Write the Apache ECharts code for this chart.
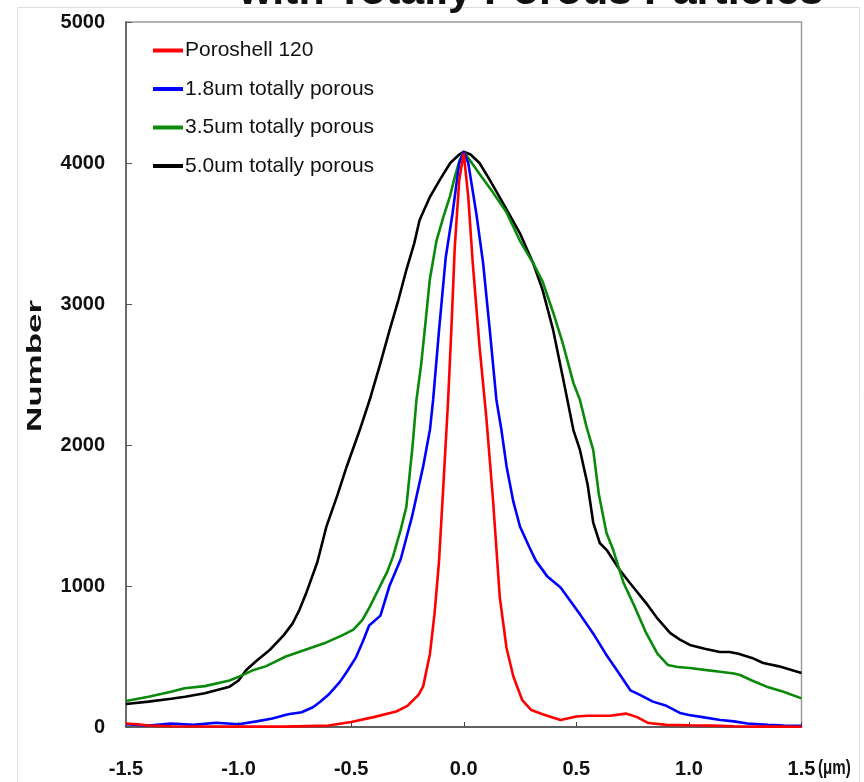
<!DOCTYPE html>
<html>
<head>
<meta charset="utf-8">
<script src="https://cdn.jsdelivr.net/npm/echarts@6/dist/echarts.min.js"></script>
<style>
html,body{margin:0;padding:0;background:#fff;}
#chart{width:864px;height:782px;}
</style>
</head>
<body>
<div id="chart"></div>
<script>
// ---- Data ----
var seriesNames = ['Poroshell 120', '1.8um totally porous', '3.5um totally porous', '5.0um totally porous'];
var xTicks = [-1.5, -1.0, -0.5, 0.0, 0.5, 1.0, 1.5];
var yTicks = [0, 1000, 2000, 3000, 4000, 5000];

var poroshellX = [-1.5, -1.45, -1.4, -1.3, -1.0, -0.8, -0.6, -0.5, -0.4, -0.3, -0.25, -0.2, -0.18, -0.15, -0.13, -0.11, -0.09, -0.07, -0.055, -0.04, -0.02, 0, 0.02, 0.04, 0.07, 0.1, 0.13, 0.16, 0.19, 0.22, 0.26, 0.3, 0.35, 0.43, 0.5, 0.55, 0.65, 0.72, 0.77, 0.82, 0.9, 1.0, 1.1, 1.2, 1.3, 1.4, 1.5];
var poroshellY = [25, 20, 10, 5, 3, 3, 10, 35, 70, 110, 150, 230, 290, 520, 800, 1170, 1730, 2300, 2820, 3400, 3880, 4070, 3760, 3290, 2700, 2200, 1610, 920, 560, 360, 190, 120, 90, 50, 75, 80, 80, 95, 70, 28, 15, 12, 10, 5, 3, 3, 2];

var tp18X = [-1.5, -1.4, -1.3, -1.2, -1.1, -1.0, -0.92, -0.85, -0.78, -0.72, -0.67, -0.64, -0.6, -0.55, -0.52, -0.48, -0.45, -0.42, -0.37, -0.33, -0.28, -0.23, -0.18, -0.15, -0.136, -0.11, -0.08, -0.05, -0.02, 0, 0.02, 0.056, 0.086, 0.116, 0.145, 0.167, 0.19, 0.22, 0.25, 0.29, 0.32, 0.37, 0.43, 0.48, 0.52, 0.58, 0.63, 0.69, 0.74, 0.78, 0.84, 0.9, 0.96, 1.0, 1.06, 1.14, 1.2, 1.26, 1.35, 1.42, 1.5];
var tp18Y = [20, 10, 25, 15, 30, 20, 40, 60, 90, 105, 140, 175, 230, 320, 390, 490, 600, 720, 790, 1000, 1190, 1490, 1850, 2110, 2320, 2810, 3330, 3640, 4000, 4080, 4000, 3640, 3290, 2810, 2320, 2110, 1850, 1600, 1420, 1280, 1180, 1070, 990, 880, 790, 650, 520, 380, 260, 230, 180, 150, 100, 85, 70, 50, 40, 25, 15, 10, 8];

var tp35X = [-1.5, -1.4, -1.3, -1.24, -1.15, -1.04, -0.98, -0.94, -0.88, -0.79, -0.7, -0.61, -0.54, -0.49, -0.45, -0.418, -0.373, -0.34, -0.314, -0.28, -0.255, -0.227, -0.21, -0.19, -0.173, -0.151, -0.121, -0.09, -0.062, -0.04, -0.018, 0, 0.027, 0.08, 0.13, 0.19, 0.249, 0.308, 0.35, 0.397, 0.44, 0.487, 0.516, 0.545, 0.575, 0.6, 0.634, 0.664, 0.71, 0.76, 0.81, 0.86, 0.906, 0.95, 1.004, 1.07, 1.138, 1.2, 1.227, 1.28, 1.345, 1.42, 1.5];
var tp35Y = [185, 215, 250, 275, 290, 330, 370, 400, 430, 500, 550, 600, 650, 690, 760, 850, 995, 1100, 1210, 1400, 1560, 2000, 2320, 2560, 2820, 3170, 3450, 3620, 3760, 3900, 4020, 4080, 4020, 3900, 3790, 3650, 3450, 3290, 3160, 2940, 2720, 2440, 2320, 2130, 1965, 1650, 1376, 1255, 1021, 850, 667, 520, 440, 425, 418, 405, 392, 380, 369, 330, 286, 250, 203];

var tp50X = [-1.5, -1.4, -1.3, -1.237, -1.15, -1.04, -1.0, -0.966, -0.92, -0.862, -0.8, -0.76, -0.73, -0.70, -0.65, -0.61, -0.56, -0.52, -0.462, -0.418, -0.37, -0.329, -0.29, -0.255, -0.22, -0.196, -0.15, -0.107, -0.06, -0.02, 0, 0.03, 0.07, 0.116, 0.18, 0.249, 0.308, 0.35, 0.397, 0.44, 0.487, 0.516, 0.55, 0.575, 0.604, 0.635, 0.693, 0.738, 0.81, 0.86, 0.916, 0.96, 1.004, 1.07, 1.138, 1.18, 1.22, 1.28, 1.33, 1.4, 1.5];
var tp50Y = [163, 180, 200, 215, 240, 286, 330, 404, 470, 546, 650, 735, 830, 948, 1170, 1421, 1650, 1846, 2106, 2319, 2580, 2816, 3030, 3241, 3430, 3596, 3760, 3879, 4000, 4060, 4080, 4060, 4000, 3879, 3700, 3503, 3291, 3100, 2816, 2480, 2106, 1965, 1720, 1450, 1305, 1255, 1113, 1021, 879, 770, 667, 620, 582, 555, 532, 532, 520, 490, 454, 430, 383];

var colors = ['#ff0000', '#0000ff', '#0a8a0a', '#000000'];
var tickFont = '"Liberation Sans", Arial, sans-serif';

function pairs(xs, ys) { return xs.map(function (x, i) { return [x, ys[i]]; }); }

var chart = echarts.init(document.getElementById('chart'), null, {renderer: 'canvas'});

function mkSeries(name, xs, ys, color, z) {
  return {
    name: name, type: 'line', data: pairs(xs, ys), showSymbol: false, symbol: 'none',
    smooth: false, z: z,
    lineStyle: {color: color, width: 2.6},
    itemStyle: {color: color}
  };
}

var option = {
  backgroundColor: '#ffffff',
  animation: false,
  grid: {left: 126, right: 62.5, top: 22, bottom: 55, show: true, borderColor: '#9a9a9a', borderWidth: 1.5, backgroundColor: 'transparent'},
  legend: {
    data: seriesNames,
    orient: 'vertical', left: 153, top: 40, padding: 0,
    itemGap: 17.5, itemWidth: 30, itemHeight: 4, icon: 'rect',
    textStyle: {fontFamily: 'Liberation Sans', fontSize: 21, color: '#111', padding: [0, 0, 0, -3]}
  },
  xAxis: {
    type: 'value', min: -1.5, max: 1.5, interval: 0.5,
    axisLine: {show: true, onZero: false, lineStyle: {color: '#444', width: 1.5}},
    axisTick: {show: true, inside: true, length: 5, lineStyle: {color: '#444'}},
    splitLine: {show: false},
    axisLabel: {
      margin: 32, color: '#111', fontFamily: tickFont, fontWeight: 'bold', fontSize: 20,
      formatter: function (v) { return (Math.abs(v) < 1e-9 ? 0 : v).toFixed(1); }
    }
  },
  yAxis: {
    type: 'value', min: 0, max: 5000, interval: 1000,
    axisLine: {show: true, onZero: false, lineStyle: {color: '#555', width: 1.5}},
    axisTick: {show: true, inside: true, length: 6, lineStyle: {color: '#555'}},
    splitLine: {show: false},
    axisLabel: {margin: 21, color: '#111', fontFamily: tickFont, fontWeight: 'bold', fontSize: 20,
      formatter: function (v) { return String(v); }}
  },
  graphic: [
    {type: 'rect', silent: true, z: -10, shape: {x: 17.5, y: 7.5, width: 842, height: 800}, style: {fill: 'none', stroke: '#dddddd', lineWidth: 1}},
    {type: 'text', x: 531, y: -29, style: {text: 'with Totally Porous Particles', font: 'bold 43px "Liberation Sans"', fill: '#111', textAlign: 'center', textVerticalAlign: 'top'}},
    {type: 'text', x: 35, y: 366, rotation: Math.PI / 2, scaleX: 1.75, style: {text: 'Number', font: 'bold 20px "Liberation Sans"', fill: '#111', textAlign: 'center', textVerticalAlign: 'middle'}},
    {type: 'text', x: 818, y: 768, scaleX: 0.72, style: {text: '(μm)', font: 'bold 21px "Liberation Sans"', fill: '#111', textAlign: 'left', textVerticalAlign: 'middle'}}
  ],
  series: [
    mkSeries(seriesNames[3], tp50X, tp50Y, colors[3], 2),
    mkSeries(seriesNames[2], tp35X, tp35Y, colors[2], 3),
    mkSeries(seriesNames[1], tp18X, tp18Y, colors[1], 4),
    mkSeries(seriesNames[0], poroshellX, poroshellY, colors[0], 5)
  ]
};
chart.setOption(option);
</script>
</body>
</html>
